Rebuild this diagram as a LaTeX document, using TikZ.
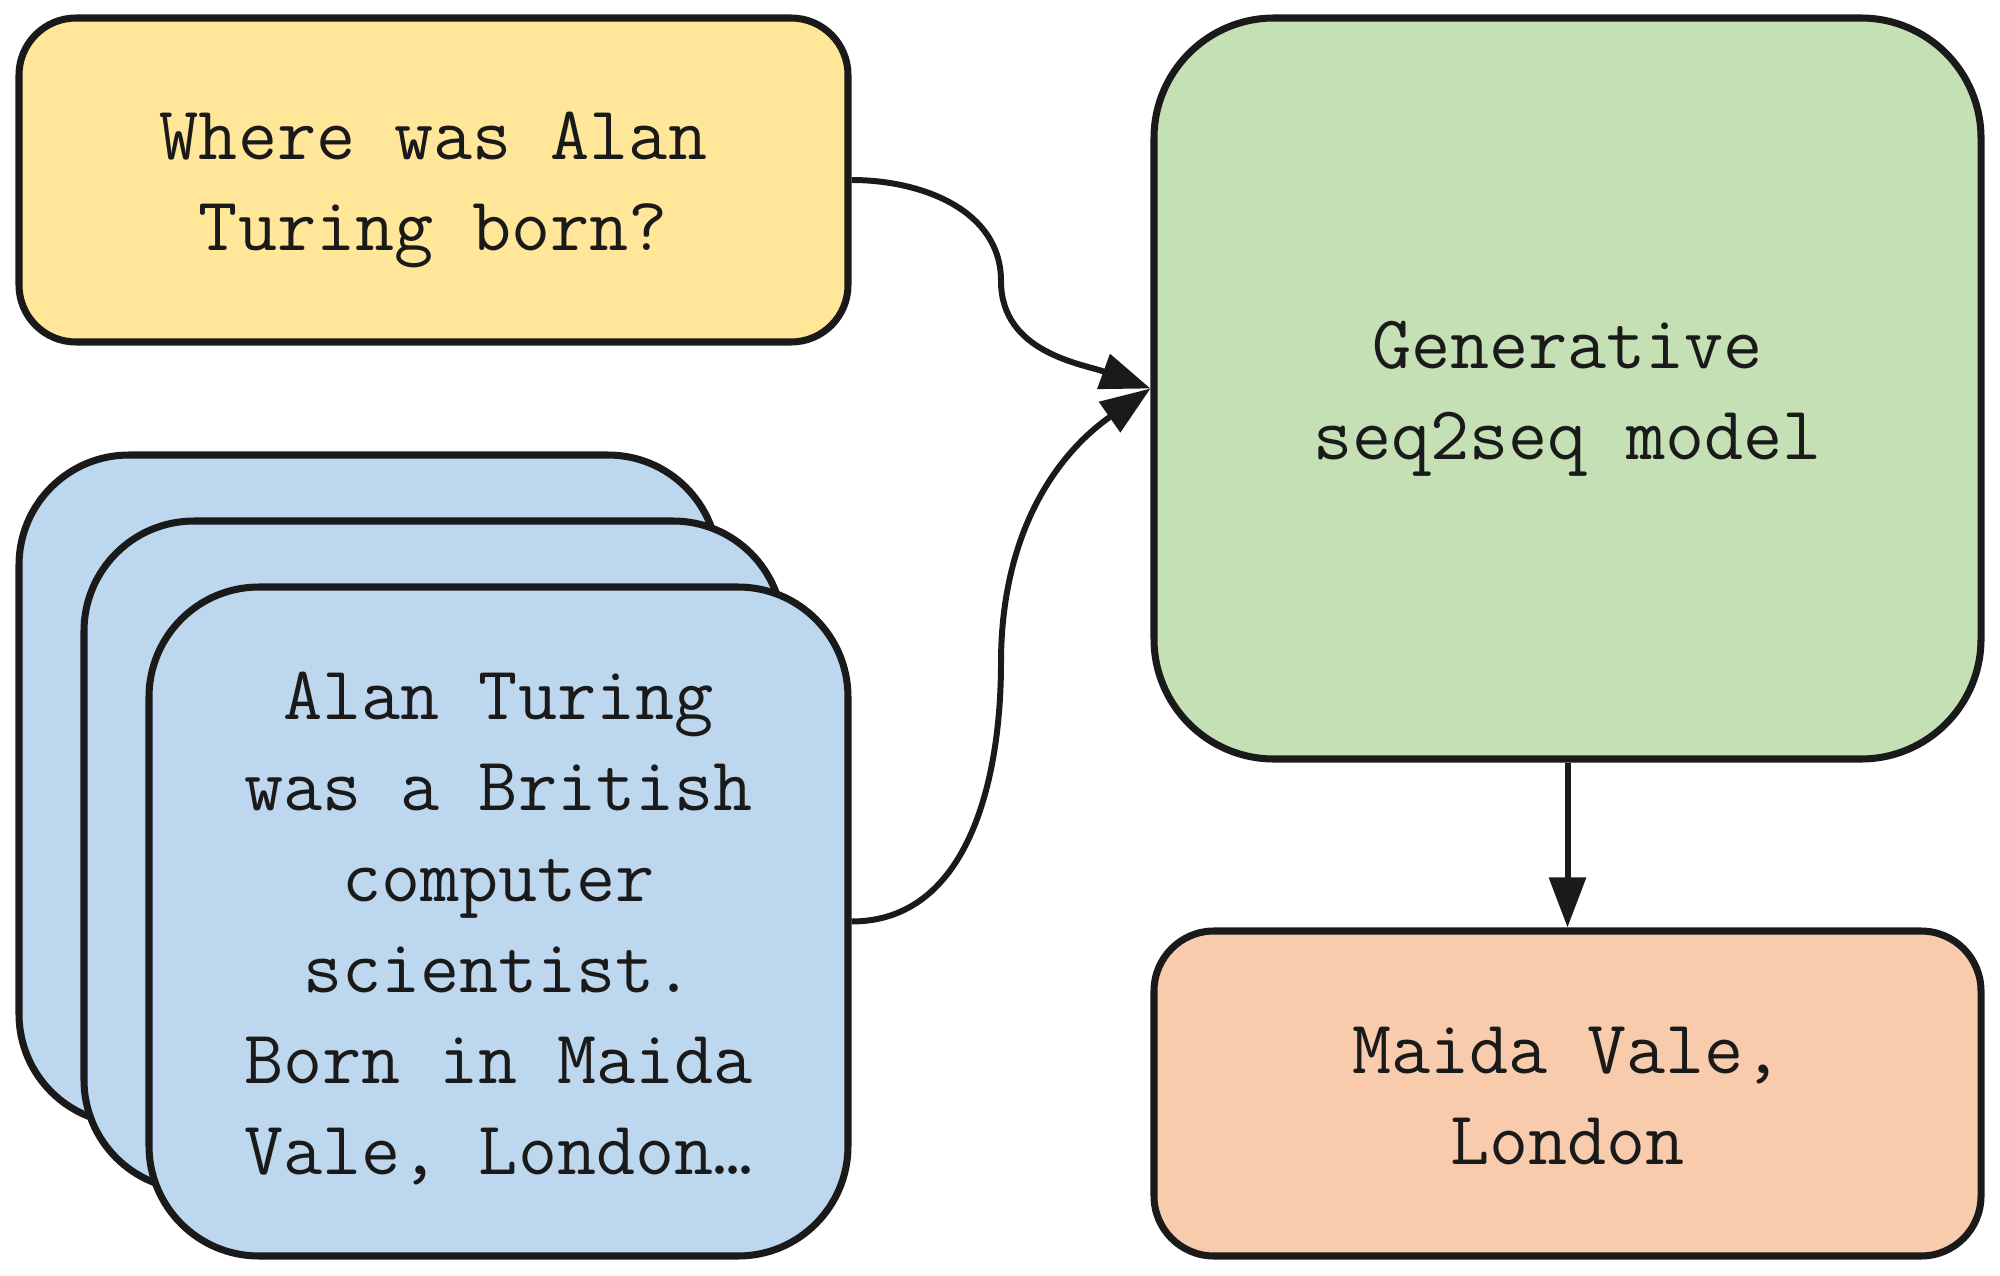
\documentclass[tikz,border=0pt]{standalone}
\usepackage{fontspec}
\usetikzlibrary{arrows.meta}
\definecolor{qyellow}{RGB}{255,230,153}
\definecolor{docblue}{RGB}{189,215,238}
\definecolor{modelgreen}{RGB}{197,224,180}
\definecolor{ansorange}{RGB}{248,203,173}
\definecolor{ink}{RGB}{26,26,26}
% fixed first-line height and last-line depth, so every label sits alike
\newcommand{\toplift}{\rule{0pt}{0.9em}}
\newcommand{\botlift}{\rule[-0.23em]{0pt}{0.23em}}

\begin{document}
\begin{tikzpicture}[
    box/.style={draw=ink, line width=2pt, align=center, inner sep=0pt, text=ink,
                font=\fontsize{21.6}{25.9}\selectfont\ttfamily},
    question/.style={box, fill=qyellow, rounded corners=0.57cm, minimum width=8.29cm, minimum height=3.24cm},
    passage/.style={box, fill=docblue, rounded corners=1.1cm, minimum width=6.99cm, minimum height=6.69cm},
    model/.style={box, fill=modelgreen, rounded corners=1.2cm, minimum width=8.27cm, minimum height=7.41cm},
    answer/.style={box, fill=ansorange, rounded corners=0.6cm, minimum width=8.27cm, minimum height=3.25cm},
    link/.style={draw=ink, line width=1.7pt, -{Triangle[length=0.5cm,width=0.36cm]}}
  ]
  \useasboundingbox (0,0) rectangle (20,-12.76);

  \node[question] (q) at (4.335,-1.80) {\toplift Where was Alan\\Turing born?\botlift};

  % stack of retrieved passages
  \node[passage] (c3) at (3.685,-7.895) {};
  \node[passage] (c2) at (4.335,-8.555) {};
  \node[passage] (c1) at (4.985,-9.215)
    {\toplift Alan Turing\\was a British\\computer\\scientist.\\Born in Maida\\Vale, London…\botlift};

  \node[model] (gen) at (15.675,-3.885) {\toplift Generative\\seq2seq model\botlift};
  \node[answer] (ans) at (15.675,-10.935) {\toplift Maida Vale,\\London\botlift};

  \coordinate (bendq) at (10.01,-2.81);
  \coordinate (bendc) at (10.01,-6.63);

  \draw[link] (q.east) to[out=0,in=90] (bendq) to[out=-90,in=160] (gen.west);
  \draw[link] (c1.east) to[out=0,in=-90] (bendc) to[out=90,in=215] (gen.west);
  \draw[link] (gen.south) -- (ans.north);
\end{tikzpicture}
\end{document}
